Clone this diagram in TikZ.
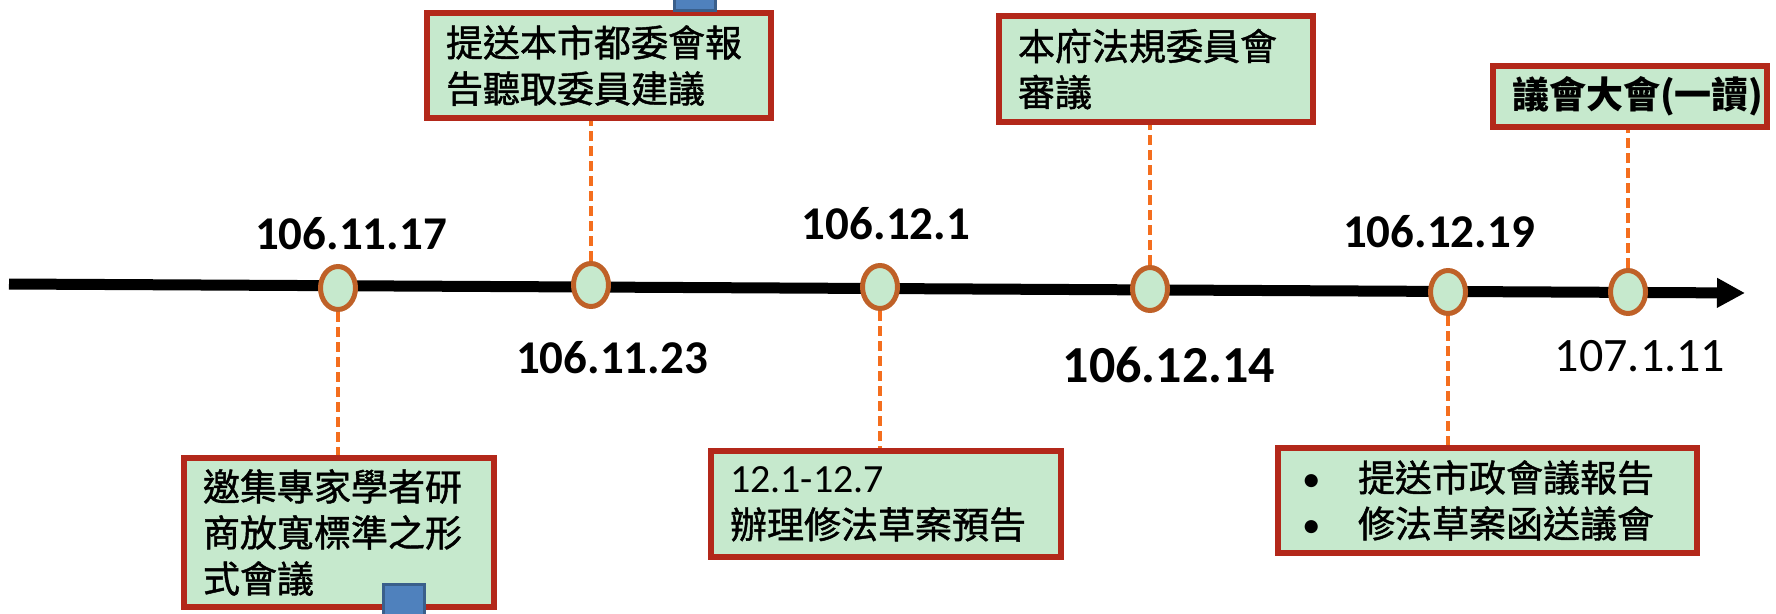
\documentclass[tikz,border=0pt]{standalone}
\usepackage{fontspec}
\setmainfont{Carlito}
\newfontfamily\cjk[UprightFeatures={FakeBold=1.2}]{Noto Sans CJK TC}
\usetikzlibrary{shapes.geometric,arrows.meta}
\definecolor{boxfill}{HTML}{C6E9CD}
\definecolor{boxline}{HTML}{B3281A}
\definecolor{ringline}{HTML}{BF6128}
\definecolor{dashc}{HTML}{F46E1E}
\definecolor{bluef}{HTML}{4F81BD}
\definecolor{bluel}{HTML}{3A5F8B}
\begin{document}
\begin{tikzpicture}[x=1pt,y=-1pt,
  box/.style={draw=boxline, line width=6pt, fill=boxfill, anchor=north west,
    inner xsep=19pt, inner ysep=0pt, align=left,
    font=\cjk\fontsize{37}{46}\selectfont},
  ring/.style={ellipse, draw=ringline, line width=5pt, fill=boxfill,
    minimum width=35pt, minimum height=43pt, inner sep=0pt},
  datebold/.style={font=\bfseries\fontsize{47}{50}\selectfont, inner sep=0pt},
  dateplain/.style={font=\fontsize{48}{50}\selectfont, inner sep=0pt},
  leader/.style={draw=dashc, line width=3.5pt, dash pattern=on 10pt off 5pt},
  tab/.style={draw=bluel, line width=3pt, fill=bluef, minimum width=41pt,
    minimum height=41pt, inner sep=0pt}
]
\useasboundingbox (0,0) rectangle (1776,613);

% timeline
\coordinate (tstart) at (9,284);
\coordinate (tend) at (1745,293);
\draw[line width=11pt, -{Triangle[length=28pt,width=28pt]}] (tstart) -- (tend);

% boxes
\node[box, text width=306pt, minimum height=105pt] (bA) at (424,10)
  {提送本市都委會報\\告聽取委員建議};
\node[box, text width=272pt, minimum height=149pt] (bB) at (181,455)
  {邀集專家學者研\\商放寬標準之形\\式會議};
\node[box, text width=312pt, minimum height=106pt] (bC) at (708,448)
  {{\rmfamily\fontsize{40}{46}\selectfont 12.1-12.7}\\辦理修法草案預告};
\node[box, text width=276pt, minimum height=106pt] (bD) at (996,13)
  {本府法規委員會\\審議};
\node[box, inner xsep=19pt, text width=236pt, minimum height=61pt,
  font=\cjk\bfseries\fontsize{37}{46}\selectfont] (bE) at (1490,63)
  {議會大會(一讀)};
\node[box, inner xsep=17pt, text width=385pt, minimum height=105pt] (bF) at (1275,445)
  {\hspace*{7pt}\makebox[56pt][l]{\rmfamily •}提送市政會議報告\\\hspace*{7pt}\makebox[56pt][l]{\rmfamily •}修法草案函送議會};

% blue tabs
\node[tab, anchor=south west] (tA) at (672.5,11.5) {};
\node[tab, anchor=north west] (tB) at (381.5,582.5) {};

% milestones
\node[ring] (c1) at (338,288) {};
\node[ring] (c2) at (591,285) {};
\node[ring] (c3) at (880,287) {};
\node[ring] (c4) at (1150,289) {};
\node[ring] (c5) at (1448,292) {};
\node[ring] (c6) at (1628,292) {};

% leaders
\draw[leader] (c1.south) -- (c1.south |- bB.north);
\draw[leader] (c2.north) -- (c2.north |- bA.south);
\draw[leader] (c3.south) -- (c3.south |- bC.north);
\draw[leader] (c4.north) -- (c4.north |- bD.south);
\draw[leader] (c5.south) -- (c5.south |- bF.north);
\draw[leader] (c6.north) -- (c6.north |- bE.south);

% dates
\node[datebold] (d1) at (351,234) {106.11.17};
\node[datebold] (d2) at (612,358) {106.11.23};
\node[datebold] (d3) at (886,224) {106.12.1};
\node[datebold, font=\bfseries\fontsize{52}{54}\selectfont] (d4) at (1169,365) {106.12.14};
\node[datebold] (d5) at (1439,232) {106.12.19};
\node[dateplain] (d6) at (1640,356) {107.1.11};
\end{tikzpicture}
\end{document}
